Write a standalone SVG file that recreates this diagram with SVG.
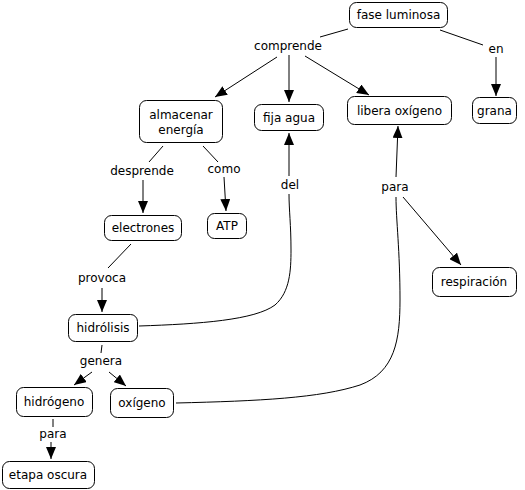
<svg xmlns="http://www.w3.org/2000/svg" width="525" height="490" viewBox="0 0 525 490">
<defs>
<marker id="ah" markerWidth="12" markerHeight="10" refX="12" refY="5" orient="auto" markerUnits="userSpaceOnUse">
<path d="M0,0 L12,5 L0,10 Z" fill="#000"/>
</marker>
<style>
.n rect{fill:#fff;stroke:#000;stroke-width:1}
text{font-family:"DejaVu Sans",Verdana,sans-serif;font-size:12px;fill:#000;text-anchor:middle}
.c path{fill:none;stroke:#000;stroke-width:1}
.l rect{fill:#fff}
</style>
</defs>
<rect width="525" height="490" fill="#fff"/>
<g class="c">
<path d="M348,29 L320,37"/>
<path d="M277,57 L215,97" marker-end="url(#ah)"/>
<path d="M289,55 L289,102" marker-end="url(#ah)"/>
<path d="M305,56 L369,95" marker-end="url(#ah)"/>
<path d="M440,30 L483,45"/>
<path d="M496,57 L496,96" marker-end="url(#ah)"/>
<path d="M163,146 L149,162"/>
<path d="M143,180 L143,213" marker-end="url(#ah)"/>
<path d="M203,146 L218,162"/>
<path d="M224,177 L226,211" marker-end="url(#ah)"/>
<path d="M131,244 L108,268"/>
<path d="M102,288 L102,312" marker-end="url(#ah)"/>
<path d="M139,326 C200,324 255,320 275,305 C290,292 291,270 291,250 C291,225 289,210 289,194"/>
<path d="M289,176 L289,133" marker-end="url(#ah)"/>
<path d="M176,403 C260,401 320,398 360,385 C395,372 400,340 400,300 C400,250 396,220 396,197"/>
<path d="M396,177 L398,126" marker-end="url(#ah)"/>
<path d="M403,197 L461,265" marker-end="url(#ah)"/>
<path d="M102,345 L101,353"/>
<path d="M92,372 L74,385" marker-end="url(#ah)"/>
<path d="M109,372 L126,386" marker-end="url(#ah)"/>
<path d="M53,419 L53,427"/>
<path d="M51,442 L51,459" marker-end="url(#ah)"/>
</g>
<g id="lbl-comprende"><text x="288" y="50">comprende</text></g>
<g id="lbl-en"><text x="496" y="53">en</text></g>
<g id="lbl-desprende"><text x="142" y="175">desprende</text></g>
<g id="lbl-como"><text x="224" y="173">como</text></g>
<g id="lbl-del"><text x="290" y="189">del</text></g>
<g id="lbl-para1"><text x="395" y="191">para</text></g>
<g id="lbl-provoca"><text x="102" y="282">provoca</text></g>
<g id="lbl-genera"><text x="101" y="365">genera</text></g>
<g id="lbl-para2"><text x="53" y="438">para</text></g>
<g id="n-fase" class="n"><rect x="349.5" y="2.5" width="98" height="25" rx="7"/><text x="398.5" y="19">fase luminosa</text></g>
<g id="n-libera" class="n"><rect x="347.5" y="96.5" width="104" height="28" rx="7"/><text x="399.5" y="115">libera oxígeno</text></g>
<g id="n-grana" class="n"><rect x="472.5" y="97.5" width="44" height="26" rx="7"/><text x="494.5" y="115">grana</text></g>
<g id="n-fija" class="n"><rect x="254.5" y="104.5" width="69" height="26" rx="7"/><text x="289" y="122">fija agua</text></g>
<g id="n-almacenar" class="n"><rect x="139.5" y="100.5" width="83" height="42" rx="7"/><text x="181" y="119">almacenar</text><text x="181" y="134">energía</text></g>
<g id="n-electrones" class="n"><rect x="104.5" y="215.5" width="77" height="25" rx="7"/><text x="143" y="232">electrones</text></g>
<g id="n-atp" class="n"><rect x="207.5" y="213.5" width="39" height="25" rx="7"/><text x="227" y="230">ATP</text></g>
<g id="n-respiracion" class="n"><rect x="432.5" y="267.5" width="84" height="29" rx="7"/><text x="474" y="286">respiración</text></g>
<g id="n-hidrolisis" class="n"><rect x="68.5" y="314.5" width="69" height="27" rx="7"/><text x="103" y="332">hidrólisis</text></g>
<g id="n-hidrogeno" class="n"><rect x="16.5" y="387.5" width="76" height="29" rx="7"/><text x="54" y="406">hidrógeno</text></g>
<g id="n-oxigeno" class="n"><rect x="110.5" y="388.5" width="63" height="29" rx="7"/><text x="142" y="407">oxígeno</text></g>
<g id="n-etapa" class="n"><rect x="2.5" y="461.5" width="92" height="27" rx="7"/><text x="48" y="479">etapa oscura</text></g>
</svg>
